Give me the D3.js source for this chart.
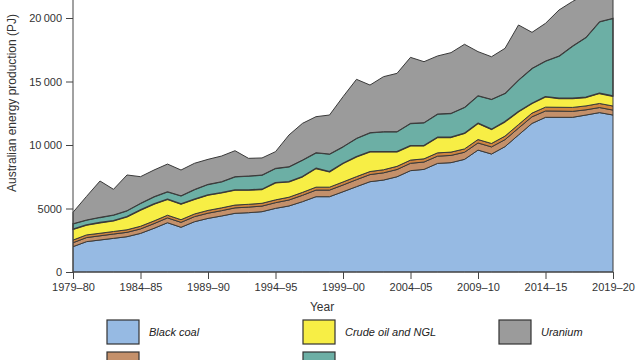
<!DOCTYPE html>
<html><head><meta charset="utf-8">
<script src="https://cdn.jsdelivr.net/npm/d3@7"></script>
<style>
html,body{margin:0;padding:0;background:#fff;overflow:hidden}
svg{display:block;font-family:"Liberation Sans",Arial,sans-serif}
</style></head>
<body>
<svg id="chart" width="640" height="360"></svg>
<script>
const years = ["1979–80","1980–81","1981–82","1982–83","1983–84","1984–85","1985–86","1986–87","1987–88","1988–89",
"1989–90","1990–91","1991–92","1992–93","1993–94","1994–95","1995–96","1996–97","1997–98","1998–99",
"1999–00","2000–01","2001–02","2002–03","2003–04","2004–05","2005–06","2006–07","2007–08","2008–09",
"2009–10","2010–11","2011–12","2012–13","2013–14","2014–15","2015–16","2016–17","2017–18","2018–19","2019–20"];
const tickYears = ["1979–80","1984–85","1989–90","1994–95","1999–00","2004–05","2009–10","2014–15","2019–20"];
const yTicks = [0,5000,10000,15000,20000];

const blackCoal = [1995,2390,2520,2650,2780,3040,3440,3880,3520,3960,4220,4410,4620,4670,4750,5010,5200,5540,5930,5930,6320,6720,7110,7240,7500,7980,8080,8550,8610,8870,9600,9290,9870,10790,11700,12180,12180,12180,12360,12550,12360];
const brownCoal = [310,320,330,340,345,350,370,380,390,400,410,420,430,440,440,450,470,500,520,520,530,550,560,570,570,580,580,570,570,560,560,560,550,540,520,500,490,470,410,400,390];
const renewables = [210,210,200,200,200,210,210,210,210,210,220,220,220,220,220,220,220,230,230,230,240,240,240,240,250,250,250,260,260,260,270,270,280,280,290,300,300,310,310,320,320];
const crudeOil = [845,780,835,852,1032,1282,1334,1252,1234,1152,1211,1194,1184,1124,1097,1352,1221,1235,1481,1218,1465,1570,1563,1423,1153,1136,1036,1222,1162,1227,1275,1112,1136,1013,770,825,703,713,672,797,780];
const naturalGas = [440,394,419,446,472,525,578,603,646,778,839,866,1051,1103,1129,1129,1181,1312,1234,1392,1312,1443,1497,1575,1575,1759,1811,1838,1890,2048,2178,2363,2231,2494,2756,2808,3334,4122,4725,5644,6123];
const uranium = [900,1856,2861,2022,2811,2098,2098,2175,2030,2060,1970,2020,2045,1393,1344,1314,2498,2888,2835,3070,3933,4647,3750,4332,4592,5195,4803,4570,4778,4965,3467,3355,3543,4333,2834,2967,3623,3505,3423,2489,2527];

const seriesNames = ["Black coal","Brown coal","Renewables","Crude oil and NGL","Natural gas","Uranium"];
const seriesValues = [blackCoal,brownCoal,renewables,crudeOil,naturalGas,uranium];
const colors = ["#96bae3","#c4906a","#cf8540","#f7ee45","#6cafa5","#9b9b9b"];

const rows = years.map((y,i)=>{const o={year:y}; seriesNames.forEach((n,k)=>o[n]=seriesValues[k][i]); return o;});

const svg = d3.select("#chart");
const x0=73, x1=613, yBase=272, y20k=18;
const x = d3.scalePoint().domain(years).range([x0,x1]);
const y = d3.scaleLinear().domain([0,20000]).range([yBase,y20k]);

const stack = d3.stack().keys(seriesNames);
const layers = stack(rows);
const area = d3.area().x(d=>x(d.data.year)).y0(d=>y(d[0])).y1(d=>y(d[1]));

svg.append("g").selectAll("path").data(layers).join("path")
  .attr("d",area).attr("fill",(d,i)=>colors[i])
  .attr("stroke","#3a3a3a").attr("stroke-width",(d,i)=>i===4?1.6:1).attr("stroke-linejoin","round");

// Y axis
const fmt = v => v>=10000 ? d3.format(",")(v).replace(",", "\u2009") : String(v);
const yAxis = d3.axisLeft(y).tickValues(yTicks).tickFormat(fmt).tickSizeOuter(0).tickSize(7).tickPadding(4);
const gy = svg.append("g").attr("transform",`translate(${x0},0)`).call(yAxis);
gy.select(".domain").attr("d",`M0,${yBase}V-10`);
gy.selectAll("text").attr("font-size",11).attr("fill","#333");
gy.selectAll("line,path").attr("stroke","#444");

// X axis
const xAxis = d3.axisBottom(x).tickValues(tickYears).tickSizeOuter(0).tickSize(7).tickPadding(4);
const gx = svg.append("g").attr("transform",`translate(0,${yBase})`).call(xAxis);
gx.select(".domain").attr("d",`M${x0},0H${x1}`);
gx.selectAll("text").attr("font-size",11).attr("fill","#333");
gx.selectAll("line,path").attr("stroke","#444");

// Titles
svg.append("text").attr("transform","translate(16,103) rotate(-90)").attr("text-anchor","middle")
  .attr("font-size",12).attr("fill","#333").text("Australian energy production (PJ)");
svg.append("text").attr("x",322).attr("y",311).attr("text-anchor","middle")
  .attr("font-size",12).attr("fill","#333").text("Year");

// Legend
const legendOrder = [[0,0,0],[3,1,0],[5,2,0],[1,0,1],[4,1,1],[2,0,2]];
const colX = [107,303,499], rowY = [320,352,384];
const lg = svg.append("g");
legendOrder.forEach(([k,c,r])=>{
  lg.append("rect").attr("x",colX[c]).attr("y",rowY[r]).attr("width",32).attr("height",24)
    .attr("fill",colors[k]).attr("stroke","#333").attr("stroke-width",1.2);
  lg.append("text").attr("x",colX[c]+42).attr("y",rowY[r]+16).attr("font-size",11)
    .attr("font-style","italic").attr("fill","#222").text(seriesNames[k]);
});
</script>
</body></html>
